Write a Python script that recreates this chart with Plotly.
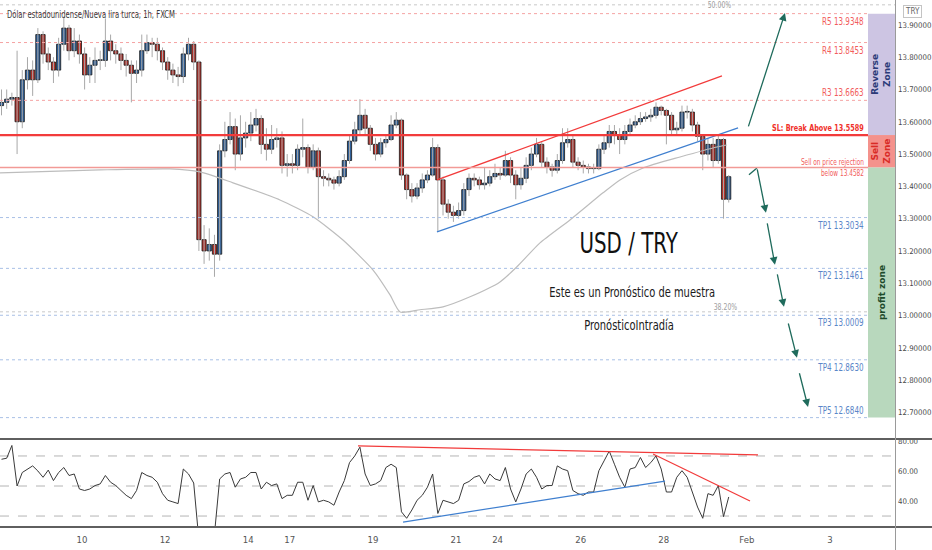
import plotly.graph_objects as go

# ---------------- data ----------------
STEP = 3  # hours per candle
first_open = 13.65
closes = [
    13.66, 13.67, 13.675, 13.60, 13.73, 13.76, 13.73, 13.87, 13.81, 13.785,
    13.76, 13.84, 13.89, 13.82, 13.85, 13.81, 13.745, 13.775, 13.79, 13.79,
    13.85, 13.82, 13.81, 13.79, 13.775, 13.75, 13.76, 13.82, 13.845, 13.84,
    13.82, 13.785, 13.76, 13.745, 13.74, 13.81, 13.84, 13.785, 13.235, 13.20,
    13.22, 13.19, 13.51, 13.545, 13.585, 13.50, 13.55, 13.565, 13.59, 13.61,
    13.53, 13.515, 13.545, 13.55, 13.465, 13.47, 13.465, 13.515, 13.52, 13.46,
    13.51, 13.43, 13.425, 13.42, 13.41, 13.43, 13.48, 13.54, 13.575, 13.62,
    13.58, 13.53, 13.50, 13.535, 13.545, 13.59, 13.605, 13.435, 13.39, 13.37,
    13.395, 13.42, 13.435, 13.52, 13.42, 13.345, 13.32, 13.31, 13.325, 13.39,
    13.425, 13.42, 13.405, 13.41, 13.43, 13.44, 13.435, 13.48, 13.435, 13.405,
    13.425, 13.465, 13.50, 13.53, 13.475, 13.46, 13.45, 13.48, 13.535, 13.545,
    13.475, 13.465, 13.46, 13.455, 13.455, 13.515, 13.535, 13.57, 13.56, 13.545,
    13.57, 13.59, 13.60, 13.61, 13.615, 13.62, 13.645, 13.635, 13.62, 13.575,
    13.58, 13.63, 13.63, 13.59, 13.555, 13.50, 13.53, 13.48, 13.545, 13.36,
    13.43,
]
highs = [
    13.70, 13.70, 13.69, 13.82, 13.76, 13.80, 13.79, 13.89, 13.88, 13.83,
    13.80, 13.86, 13.925, 13.90, 13.89, 13.87, 13.83, 13.80, 13.83, 13.82,
    13.92, 13.87, 13.84, 13.83, 13.81, 13.79, 13.79, 13.87, 13.87, 13.86,
    13.86, 13.83, 13.80, 13.78, 13.77, 13.83, 13.86, 13.85, 13.79, 13.28,
    13.27, 13.25, 13.53, 13.60, 13.63, 13.61, 13.62, 13.60, 13.63, 13.64,
    13.62, 13.58, 13.59, 13.58, 13.57, 13.50, 13.50, 13.53, 13.61, 13.53,
    13.53, 13.52, 13.45, 13.44, 13.43, 13.45, 13.50, 13.56, 13.60, 13.67,
    13.64, 13.59, 13.55, 13.55, 13.56, 13.62, 13.63, 13.61, 13.44, 13.41,
    13.41, 13.44, 13.45, 13.55, 13.53, 13.43, 13.36, 13.34, 13.35, 13.41,
    13.44, 13.44, 13.43, 13.46, 13.45, 13.47, 13.46, 13.51, 13.49, 13.45,
    13.46, 13.49, 13.52, 13.55, 13.54, 13.49, 13.47, 13.50, 13.58, 13.58,
    13.56, 13.49, 13.48, 13.47, 13.47, 13.53, 13.56, 13.59, 13.59, 13.58,
    13.59, 13.61, 13.62, 13.63, 13.63, 13.64, 13.66, 13.65, 13.64, 13.63,
    13.60, 13.65, 13.65, 13.64, 13.60, 13.56, 13.55, 13.55, 13.56, 13.55,
    13.435,
]
lows = [
    13.62, 13.64, 13.65, 13.50, 13.58, 13.70, 13.68, 13.72, 13.78, 13.76,
    13.72, 13.74, 13.82, 13.79, 13.80, 13.78, 13.70, 13.72, 13.72, 13.76,
    13.77, 13.79, 13.78, 13.76, 13.74, 13.66, 13.72, 13.74, 13.81, 13.80,
    13.79, 13.76, 13.73, 13.72, 13.71, 13.72, 13.79, 13.76, 13.20, 13.16,
    13.17, 13.12, 13.17, 13.49, 13.53, 13.45, 13.48, 13.52, 13.54, 13.57,
    13.50, 13.48, 13.50, 13.52, 13.44, 13.43, 13.44, 13.45, 13.49, 13.44,
    13.45, 13.30, 13.40, 13.40, 13.39, 13.40, 13.42, 13.47, 13.53, 13.56,
    13.56, 13.51, 13.48, 13.49, 13.52, 13.54, 13.58, 13.42, 13.36, 13.35,
    13.36, 13.38, 13.41, 13.43, 13.26, 13.31, 13.30, 13.29, 13.30, 13.31,
    13.37, 13.40, 13.39, 13.39, 13.40, 13.42, 13.42, 13.43, 13.41, 13.36,
    13.39, 13.41, 13.45, 13.49, 13.46, 13.44, 13.43, 13.44, 13.47, 13.52,
    13.46, 13.45, 13.44, 13.44, 13.44, 13.45, 13.50, 13.52, 13.53, 13.50,
    13.53, 13.56, 13.58, 13.59, 13.60, 13.60, 13.61, 13.62, 13.53, 13.56,
    13.56, 13.57, 13.61, 13.57, 13.54, 13.45, 13.48, 13.46, 13.47, 13.30,
    13.35,
]
rsi = [
    67.8, 68.5, 77, 50, 59, 61, 63.4, 60, 55.8, 60.6,
    53.6, 59, 62.3, 57, 58, 48, 47, 48, 50.3, 51.4,
    57, 52.5, 50.3, 47, 43.8, 41.6, 47, 59, 57, 55.8,
    52.5, 44.9, 40.5, 39.4, 38.3, 61.3, 58, 52, 14, 12,
    14, 18, 54.7, 58, 59, 49.2, 54.7, 55.8, 59, 59,
    48, 52.5, 50.3, 51.4, 41.6, 43.8, 43.8, 52.5, 52.5, 40.5,
    50.3, 39.4, 40.5, 39.4, 37.2, 46, 53.6, 65.6, 70, 75.9,
    58, 50.3, 51.4, 53.6, 62.3, 64.5, 62.3, 32.8, 28.5, 34,
    40.5, 43.8, 49.2, 58, 31.7, 40.5, 39.4, 38.3, 40.5, 51.4,
    53, 55.8, 57, 51.4, 58, 54.7, 53.6, 62.3, 48, 39.4,
    48, 58, 61.3, 55.8, 48, 50.3, 50.3, 63.4, 61.3, 60.2,
    47, 44.9, 43.8, 46, 46, 60.2, 66.7, 73.3, 64.5, 55.8,
    49.2, 61.3, 62.3, 69, 62.3, 65.6, 70, 61.3, 46, 46,
    55.8, 60.2, 55.8, 46, 36, 28.5, 44.9, 43.8, 50.3, 29.6,
    42.7,
]
ma_hours = [0.6, 58.4, 98.8, 116.1, 135.2, 162.3, 181.4, 198.7, 216.1, 225.9, 231.7, 243.2,
            256.5, 272.1, 289.4, 299.2, 312.5, 329.8, 348.9, 358.7, 372, 393.4, 414.7, 420.5]
ma_price = [13.442, 13.451, 13.454, 13.445, 13.411, 13.358, 13.306, 13.234, 13.141, 13.064, 13.011, 13.018,
            13.027, 13.058, 13.104, 13.151, 13.225, 13.296, 13.380, 13.420, 13.457, 13.491, 13.522, 13.528]

date_tick_hours = [48, 96, 144, 168, 216, 264, 288, 336, 384, 432, 480]
date_tick_text = ["10", "12", "14", "17", "19", "21", "24", "26", "28", "Feb", "3"]

level_names = ["R5", "R4", "R3", "SL", "Sell", "TP1", "TP2", "TP3", "TP4", "TP5"]
level_prices = [13.9348, 13.8453, 13.6663, 13.5589, 13.4582, 13.3034, 13.1461, 13.0009, 12.8630, 12.6840]
fib_prices = [13.962, 13.0115]
fib_text = ["50.00%", "38.20%"]
price_ticks = [12.7, 12.8, 12.9, 13.0, 13.1, 13.2, 13.3, 13.4, 13.5, 13.6, 13.7, 13.8, 13.9]
rsi_ticks = [40, 60, 80]
rsi_guides = [30, 50, 70]

chan_top_h, chan_top_p = [253.0, 417.6], [13.420, 13.742]
chan_bot_h, chan_bot_p = [253.0, 426.9], [13.259, 13.581]
rsi_top_h, rsi_top_v = [207.4, 438.4], [76.7, 70.7]
rsi_down_h, rsi_down_v = [377.8, 433.8], [71.3, 40.0]
rsi_up_h, rsi_up_v = [233.4, 384.7], [26.0, 53.3]

proj_from_h = [432.6, 437.8, 443.6, 449.4, 455.7, 462.1]
proj_from_p = [13.581, 13.457, 13.290, 13.132, 12.980, 12.826]
proj_to_h = [454.0, 443.0, 448.2, 453.4, 460.9, 467.3]
proj_to_p = [13.937, 13.318, 13.157, 13.027, 12.869, 12.717]
hook_h, hook_p = [433.2, 437.8], [13.436, 13.457]

# ---------------- layout geometry ----------------
W, H = 932, 550
ML, MR, MT, MB = 0, 37, 0, 23
PW, PH = W - ML - MR, H - MT - MB
X_RANGE = [0.635, 517.53]
FONT = "DejaVu Sans Condensed, DejaVu Sans, sans-serif"


def px(xpix):
    return xpix / PW


def py(ypix):
    return (PH - ypix) / PH


ZONE_L = px(868)
LABEL_R = px(866)

fig = go.Figure()

# moving average
fig.add_trace(go.Scatter(x=ma_hours, y=ma_price, mode="lines",
                         line=dict(color="#bdbdbd", width=1.2, shape="spline", smoothing=0.6),
                         hoverinfo="skip", showlegend=False, xaxis="x", yaxis="y"))

# candles
xs = [STEP * i + STEP / 2 for i in range(len(closes))]
opens = [first_open] + closes[:-1]
wx, wy = [], []
for x, hi, lo in zip(xs, highs, lows):
    wx += [x, x, None]
    wy += [lo, hi, None]
fig.add_trace(go.Scatter(x=wx, y=wy, mode="lines", line=dict(color="#a8a8a8", width=1),
                         hoverinfo="skip", showlegend=False, xaxis="x", yaxis="y"))

ux, ub, uh, dx, db, dh = [], [], [], [], [], []
for x, o, c in zip(xs, opens, closes):
    h = max(abs(c - o), 0.002)
    if c >= o:
        ux.append(x); ub.append(min(o, c)); uh.append(h)
    else:
        dx.append(x); db.append(min(o, c)); dh.append(h)
fig.add_trace(go.Bar(x=ux, y=uh, base=ub, width=2.4, marker=dict(color="#2f5f98", line=dict(color="#151515", width=0.8)),
                     hoverinfo="skip", showlegend=False, xaxis="x", yaxis="y"))
fig.add_trace(go.Bar(x=dx, y=dh, base=db, width=2.4, marker=dict(color="#b3302a", line=dict(color="#151515", width=0.8)),
                     hoverinfo="skip", showlegend=False, xaxis="x", yaxis="y"))

# channel lines
fig.add_trace(go.Scatter(x=chan_top_h, y=chan_top_p, mode="lines", line=dict(color="#f23b3b", width=1.2),
                         hoverinfo="skip", showlegend=False, xaxis="x", yaxis="y"))
fig.add_trace(go.Scatter(x=chan_bot_h, y=chan_bot_p, mode="lines", line=dict(color="#3f7fcf", width=1.2),
                         hoverinfo="skip", showlegend=False, xaxis="x", yaxis="y"))
fig.add_trace(go.Scatter(x=hook_h, y=hook_p, mode="lines", line=dict(color="#1f6b5c", width=1.3),
                         hoverinfo="skip", showlegend=False, xaxis="x", yaxis="y"))

# RSI
fig.add_trace(go.Scatter(x=xs, y=rsi, mode="lines", line=dict(color="#3a3a3a", width=1),
                         hoverinfo="skip", showlegend=False, xaxis="x2", yaxis="y2"))
fig.add_trace(go.Scatter(x=rsi_top_h, y=rsi_top_v, mode="lines", line=dict(color="#f23b3b", width=1.3),
                         hoverinfo="skip", showlegend=False, xaxis="x2", yaxis="y2"))
fig.add_trace(go.Scatter(x=rsi_down_h, y=rsi_down_v, mode="lines", line=dict(color="#f23b3b", width=1.2),
                         hoverinfo="skip", showlegend=False, xaxis="x2", yaxis="y2"))
fig.add_trace(go.Scatter(x=rsi_up_h, y=rsi_up_v, mode="lines", line=dict(color="#3f7fcf", width=1.2),
                         hoverinfo="skip", showlegend=False, xaxis="x2", yaxis="y2"))

shapes = []
annotations = []

# fib lines
for p in fib_prices:
    shapes.append(dict(type="line", xref="paper", yref="y", x0=0, x1=1, y0=p, y1=p,
                       line=dict(color="#c8c8c8", width=1, dash="dot"), layer="below"))
annotations.append(dict(x=px(719), y=py(5), xref="paper", yref="paper", text=fib_text[0], showarrow=False,
                        xanchor="center", yanchor="middle",
                        font=dict(family=FONT, size=9, color="#a0a0a0")))
annotations.append(dict(x=px(725), y=py(307), xref="paper", yref="paper", text=fib_text[1], showarrow=False,
                        xanchor="center", yanchor="middle",
                        font=dict(family=FONT, size=9, color="#a0a0a0")))

# level lines + labels
label_pos = {"R5": -7, "R4": -7, "R3": 8, "SL": 8, "TP1": -7, "TP2": -7, "TP3": -7, "TP4": -7, "TP5": 8}
for name, p in zip(level_names, level_prices):
    size = 10.5
    if name.startswith("R"):
        ln = dict(color="#f5a3a3", width=1, dash="dot"); col = "#f25c5c"
    elif name == "SL":
        ln = dict(color="#f23b3b", width=2.2); col = "#f0302a"; size = 9.5
    elif name == "Sell":
        ln = dict(color="#f29a96", width=1.6); col = "#f25c5c"; size = 8.5
    else:
        ln = dict(color="#a9c0e6", width=1, dash="dot"); col = "#5a86c8"
    shapes.append(dict(type="line", xref="paper", yref="y", x0=0, x1=ZONE_L, y0=p, y1=p, line=ln))
    if name == "SL":
        txt = "<b>SL: Break Above %.4f</b>" % p
    elif name == "Sell":
        txt = "Sell on price rejection<br>below %.4f" % p
    else:
        txt = "%s %.4f" % (name, p)
    annotations.append(dict(x=LABEL_R, y=p, xref="paper", yref="y", text=txt, showarrow=False,
                            xanchor="right", align="right", yanchor="middle",
                            yshift=label_pos.get(name, 0),
                            font=dict(family=FONT, size=size, color=col)))

# zones
lv = dict(zip(level_names, level_prices))
zones = [("R5", "SL", "#cdc5e3", "<b>Reverse<br>Zone</b>", "#2b3a78"),
         ("SL", "Sell", "#f4928c", "<b>Sell<br>Zone</b>", "#d92b27"),
         ("Sell", "TP5", "#b8d8bd", "<b>profit zone</b>", "#1d4a2a")]
for a, b, fill, txt, tc in zones:
    shapes.append(dict(type="rect", xref="paper", yref="y", x0=ZONE_L, x1=1, y0=lv[b], y1=lv[a],
                       fillcolor=fill, line=dict(width=0)))
    annotations.append(dict(x=px(881.5), y=(lv[a] + lv[b]) / 2, xref="paper", yref="y", text=txt,
                            showarrow=False, textangle=-90, xanchor="center", yanchor="middle",
                            font=dict(family="DejaVu Sans, sans-serif", size=9, color=tc)))

# projection arrows
for h0, p0, h1, p1 in zip(proj_from_h, proj_from_p, proj_to_h, proj_to_p):
    annotations.append(dict(x=h1, y=p1, ax=h0, ay=p0, xref="x", yref="y", axref="x", ayref="y",
                            showarrow=True, arrowhead=2, arrowsize=1.2, arrowwidth=1.3,
                            arrowcolor="#1f6b5c", text=""))

# RSI guides
for g in rsi_guides:
    shapes.append(dict(type="line", xref="paper", yref="y2", x0=0, x1=1, y0=g, y1=g,
                       line=dict(color="#b4b4b4", width=1, dash="dash"), layer="below"))

# panel borders
ext = W / PW
shapes.append(dict(type="line", xref="paper", yref="paper", x0=0, x1=ext, y0=py(439), y1=py(439),
                   line=dict(color="#5f5f5f", width=2)))
shapes.append(dict(type="line", xref="paper", yref="paper", x0=0, x1=ext, y0=py(527), y1=py(527),
                   line=dict(color="#5f5f5f", width=2)))
shapes.append(dict(type="line", xref="paper", yref="paper", x0=px(895.5), x1=px(895.5), y0=py(550), y1=1,
                   line=dict(color="#9a9a9a", width=1)))

# texts
annotations.append(dict(x=px(5), y=py(14), xref="paper", yref="paper", xanchor="left", yanchor="middle",
                        align="left",
                        text="Dólar estadounidense/Nueva lira turca, 1h, FXCM", showarrow=False,
                        font=dict(family=FONT, size=10, color="#3a3a3a")))
annotations.append(dict(x=px(629), y=py(243), xref="paper", yref="paper", text="USD / TRY", showarrow=False,
                        xanchor="center", yanchor="middle",
                        font=dict(family=FONT, size=29, color="#111111")))
annotations.append(dict(x=px(632), y=py(292), xref="paper", yref="paper",
                        text="Este es un Pronóstico de muestra", showarrow=False,
                        xanchor="center", yanchor="middle",
                        font=dict(family=FONT, size=14.5, color="#1a1a1a")))
annotations.append(dict(x=px(629), y=py(325), xref="paper", yref="paper",
                        text="PronósticoIntradía", showarrow=False,
                        xanchor="center", yanchor="middle",
                        font=dict(family=FONT, size=14.5, color="#1a1a1a")))
annotations.append(dict(x=px(912), y=py(11), xref="paper", yref="paper", text="TRY", showarrow=False,
                        xanchor="center", yanchor="middle",
                        bordercolor="#c4c4c4", borderwidth=1, borderpad=1, bgcolor="#ffffff",
                        font=dict(family=FONT, size=8, color="#666666")))

fig.update_layout(
    width=W, height=H, autosize=False,
    margin=dict(l=ML, r=MR, t=MT, b=MB, autoexpand=False),
    paper_bgcolor="#ffffff", plot_bgcolor="#ffffff",
    barmode="overlay", showlegend=False, hovermode=False,
    shapes=shapes, annotations=annotations,
    xaxis=dict(domain=[0, 1], range=X_RANGE, anchor="y", showticklabels=False, showgrid=False,
               zeroline=False, showline=False, fixedrange=True, automargin=False),
    xaxis2=dict(domain=[0, 1], range=X_RANGE, anchor="y2", matches="x", showgrid=False, zeroline=False,
                automargin=False,
                tickvals=date_tick_hours, ticktext=date_tick_text, ticks="outside", ticklen=4,
                tickcolor="rgba(0,0,0,0)", tickfont=dict(family=FONT, size=9.5, color="#555555")),
    yaxis=dict(domain=[py(437), 1], range=[12.624, 13.977], side="right", anchor="x", showgrid=False,
               zeroline=False, automargin=False,
               tickvals=price_ticks, ticktext=["%.5f" % t for t in price_ticks],
               ticks="", ticklabelstandoff=2,
               tickfont=dict(family=FONT, size=7.8, color="#4a4a4a")),
    yaxis2=dict(domain=[0, py(439)], range=[22.7, 81.3], side="right", anchor="x2", showgrid=False,
                zeroline=False, automargin=False,
                tickvals=rsi_ticks, ticktext=["%.2f" % t for t in rsi_ticks],
                ticks="", ticklabelstandoff=2,
                tickfont=dict(family=FONT, size=7.8, color="#4a4a4a")),
)

# The reference's annotation lettering is horizontally condensed; narrow those glyphs to match.
condense_js = """
(function(){
  try {
    document.body.style.margin = '0';
    document.body.style.overflow = 'hidden';
    var gd = document.getElementById('{plot_id}');
    var k = 0.76;
    var nodes = gd.querySelectorAll('.annotation-text');
    Array.prototype.forEach.call(nodes, function(t){
      var s = t.textContent || '';
      if (/Zone|zone|^TRY$/.test(s)) return;
      var lines = t.querySelectorAll('tspan.line');
      var targets = lines.length ? Array.prototype.slice.call(lines) : [t];
      targets.forEach(function(el){
        var L = el.getComputedTextLength();
        if (L > 0) {
          el.setAttribute('textLength', (L * k).toFixed(2));
          el.setAttribute('lengthAdjust', 'spacingAndGlyphs');
        }
      });
    });
  } catch (e) {}
})();
"""

fig.write_html("out.html", config={"displayModeBar": False, "staticPlot": True},
               post_script=condense_js)
